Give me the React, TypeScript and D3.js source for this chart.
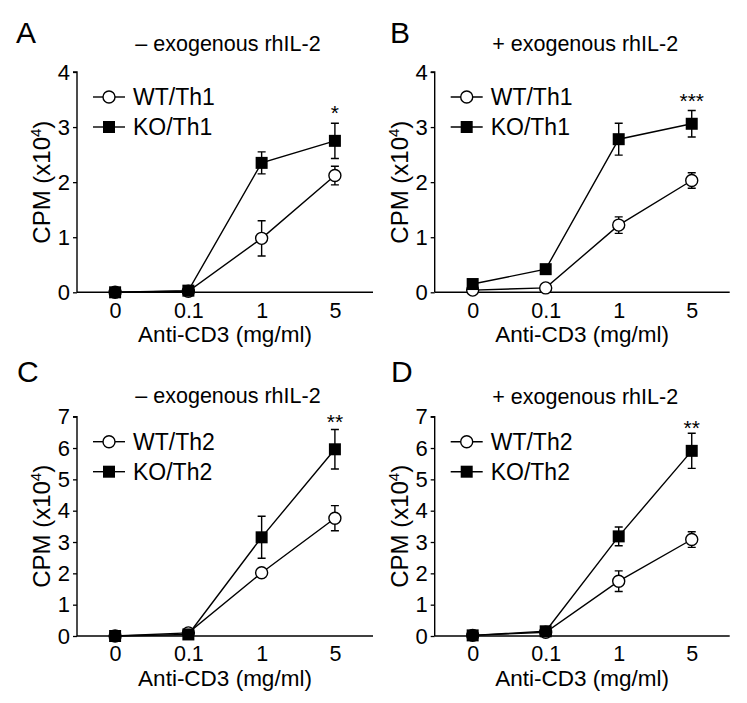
import React, { useEffect, useRef } from 'react';
import * as d3 from 'd3';

// anti-CD3 doses (categorical x)
const doses = ['0', '0.1', '1', '5'];

// CPM (x10^4), mean and error, per panel
const wtA = [0.0, 0.02, 0.98, 2.12];
const wtAErr = [0, 0, 0.32, 0.17];
const koA = [0.0, 0.03, 2.35, 2.75];
const koAErr = [0, 0, 0.2, 0.32];

const wtB = [0.04, 0.08, 1.22, 2.03];
const wtBErr = [0, 0, 0.15, 0.14];
const koB = [0.15, 0.42, 2.78, 3.06];
const koBErr = [0, 0, 0.29, 0.24];

const wtC = [0.0, 0.1, 2.02, 3.76];
const wtCErr = [0, 0, 0, 0.4];
const koC = [0.0, 0.05, 3.15, 5.96];
const koCErr = [0, 0, 0.67, 0.63];

const wtD = [0.02, 0.12, 1.75, 3.08];
const wtDErr = [0, 0, 0.33, 0.25];
const koD = [0.02, 0.15, 3.18, 5.91];
const koDErr = [0, 0, 0.3, 0.56];

const letters = ['A', 'B', 'C', 'D'];
const titles = ['– exogenous rhIL-2', '+ exogenous rhIL-2', '– exogenous rhIL-2', '+ exogenous rhIL-2'];
const wtNames = ['WT/Th1', 'WT/Th1', 'WT/Th2', 'WT/Th2'];
const koNames = ['KO/Th1', 'KO/Th1', 'KO/Th2', 'KO/Th2'];
const yMaxes = [4, 4, 7, 7];
const stars = ['*', '***', '**', '**'];
const starY = [3.12, 3.34, 6.62, 6.4];

const FONT = 'Liberation Sans, Arial, sans-serif';

type Panel = {
  wt: number[]; wtErr: number[]; ko: number[]; koErr: number[];
  axisX: number; right: number; top: number; bottom: number;
  titleY: number; letterX: number; letterY: number;
};

const panels: Panel[] = [
  { wt: wtA, wtErr: wtAErr, ko: koA, koErr: koAErr, axisX: 77, right: 373, top: 72, bottom: 292.3, titleY: 51, letterX: 16, letterY: 43 },
  { wt: wtB, wtErr: wtBErr, ko: koB, koErr: koBErr, axisX: 434.7, right: 729.7, top: 72, bottom: 292.3, titleY: 51, letterX: 390, letterY: 43 },
  { wt: wtC, wtErr: wtCErr, ko: koC, koErr: koCErr, axisX: 77, right: 373, top: 416.7, bottom: 636, titleY: 403, letterX: 17, letterY: 382 },
  { wt: wtD, wtErr: wtDErr, ko: koD, koErr: koDErr, axisX: 434.7, right: 729.7, top: 416.7, bottom: 636, titleY: 404, letterX: 391, letterY: 382 },
];

const App: React.FC = () => {
  const svgRef = useRef<SVGSVGElement>(null);

  useEffect(() => {
    const svg = d3.select(svgRef.current);
    svg.selectAll('*').remove();

    panels.forEach((p, i) => {
      const g = svg.append('g').attr('font-family', FONT).attr('fill', '#000');

      const x = d3.scalePoint<string>().domain(doses).range([p.axisX, p.right]).padding(0.52);
      const y = d3.scaleLinear().domain([0, yMaxes[i]]).range([p.bottom, p.top]);

      // y axis
      const yAxis = g.append('g')
        .attr('transform', `translate(${p.axisX},0)`)
        .call(d3.axisLeft(y).ticks(yMaxes[i]).tickSize(4).tickPadding(3) as any);
      yAxis.select('.domain').attr('stroke', '#000').attr('stroke-width', 1.4).attr('d', `M-4,${p.top}H0V${p.bottom}`);
      yAxis.selectAll('.tick line').attr('stroke', '#000').attr('stroke-width', 1.3);
      yAxis.selectAll('.tick text').attr('font-size', 22).attr('font-family', FONT).attr('fill', '#000');

      // x axis (no tick marks)
      const xAxis = g.append('g')
        .attr('transform', `translate(0,${p.bottom})`)
        .call(d3.axisBottom(x).tickSize(0).tickPadding(10) as any);
      xAxis.select('.domain').attr('stroke', '#000').attr('stroke-width', 1.4).attr('d', `M${p.axisX},0H${p.right}`);
      xAxis.selectAll('.tick text').attr('font-size', 21.5).attr('font-family', FONT).attr('fill', '#000');

      // labels
      g.append('text')
        .attr('x', p.letterX).attr('y', p.letterY)
        .attr('font-size', 30)
        .text(letters[i]);

      g.append('text')
        .attr('x', (p.axisX + p.right) / 2 + 3).attr('y', p.titleY)
        .attr('text-anchor', 'middle')
        .attr('font-size', 21.5)
        .text(titles[i]);

      g.append('text')
        .attr('x', (p.axisX + p.right) / 2).attr('y', p.bottom + 50)
        .attr('text-anchor', 'middle')
        .attr('font-size', 22.5)
        .text('Anti-CD3 (mg/ml)');

      const yl = g.append('text')
        .attr('transform', `translate(${p.axisX - 27},${(p.top + p.bottom) / 2}) rotate(-90)`)
        .attr('text-anchor', 'middle')
        .attr('font-size', 24);
      yl.append('tspan').text('CPM (x10');
      yl.append('tspan').attr('font-size', 15).attr('dy', -9).text('4');
      yl.append('tspan').attr('dy', 9).text(')');

      // lines
      const line = d3.line<number>()
        .x((_, j) => x(doses[j]) as number)
        .y(d => y(d));

      const series = [
        { vals: p.wt, err: p.wtErr, shape: 'circle' },
        { vals: p.ko, err: p.koErr, shape: 'square' },
      ];

      series.forEach(s => {
        g.append('path')
          .datum(s.vals)
          .attr('fill', 'none')
          .attr('stroke', '#000')
          .attr('stroke-width', 1.4)
          .attr('d', line);
      });

      // error bars
      series.forEach(s => {
        s.vals.forEach((v, j) => {
          if (s.err[j] <= 0) return;
          const cx = x(doses[j]) as number;
          const y1 = y(v + s.err[j]);
          const y2 = y(v - s.err[j]);
          g.append('path')
            .attr('fill', 'none')
            .attr('stroke', '#000')
            .attr('stroke-width', 1.4)
            .attr('d', `M${cx},${y1}V${y2}M${cx - 4},${y1}H${cx + 4}M${cx - 4},${y2}H${cx + 4}`);
        });
      });

      // markers
      series.forEach(s => {
        s.vals.forEach((v, j) => {
          const cx = x(doses[j]) as number;
          const cy = y(v);
          if (s.shape === 'circle') {
            g.append('circle').attr('cx', cx).attr('cy', cy).attr('r', 6)
              .attr('fill', '#fff').attr('stroke', '#000').attr('stroke-width', 1.4);
          } else {
            g.append('rect').attr('x', cx - 6).attr('y', cy - 6).attr('width', 12).attr('height', 12)
              .attr('fill', '#000');
          }
        });
      });

      // significance
      g.append('text')
        .attr('x', x('5') as number).attr('y', y(starY[i]))
        .attr('text-anchor', 'middle')
        .attr('font-size', 21)
        .text(stars[i]);

      // legend
      const lx = p.axisX + 16;
      [wtNames[i], koNames[i]].forEach((name, k) => {
        const ly = p.top + 25 + k * 30;
        g.append('line').attr('x1', lx).attr('x2', lx + 32).attr('y1', ly).attr('y2', ly)
          .attr('stroke', '#000').attr('stroke-width', 1.4);
        if (k === 0) {
          g.append('circle').attr('cx', lx + 16).attr('cy', ly).attr('r', 6)
            .attr('fill', '#fff').attr('stroke', '#000').attr('stroke-width', 1.4);
        } else {
          g.append('rect').attr('x', lx + 10).attr('y', ly - 6).attr('width', 12).attr('height', 12).attr('fill', '#000');
        }
        g.append('text').attr('x', lx + 40).attr('y', ly + 8)
          .attr('font-size', 23)
          .text(name);
      });
    });
  }, []);

  return <svg ref={svgRef} width={747} height={703} style={{ display: 'block', position: 'absolute', left: 0, top: 0, background: '#fff' }} />;
};

export default App;
